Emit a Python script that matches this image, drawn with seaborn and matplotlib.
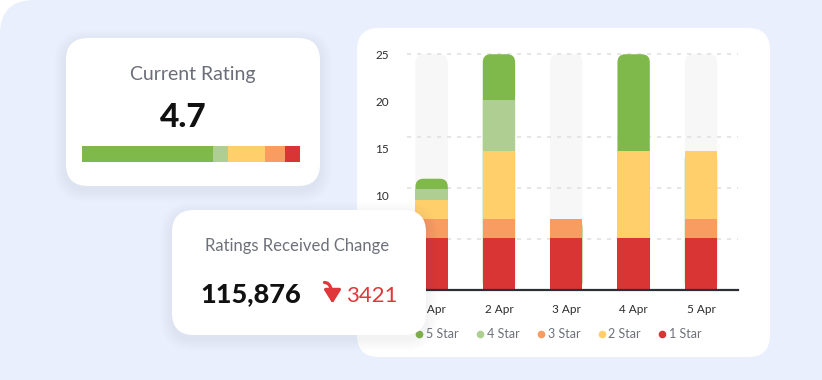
import matplotlib
matplotlib.use("Agg")
import matplotlib.pyplot as plt
from matplotlib.patches import FancyBboxPatch, FancyArrowPatch
from matplotlib.lines import Line2D
import seaborn as sns
import pandas as pd
import numpy as np

# ---- data ----
days = ["1 Apr", "2 Apr", "3 Apr", "4 Apr", "5 Apr"]
stack_order = ["1 Star", "3 Star", "2 Star", "4 Star", "5 Star"]  # bottom -> top
star_1 = [5.5, 5.5, 5.5, 5.5, 5.5]
star_3 = [2.0, 2.0, 2.0, 0.0, 2.0]
star_2 = [2.0, 7.2, 0.0, 9.2, 7.2]
star_4 = [1.2, 5.4, 0.0, 0.0, 0.0]
star_5 = [1.1, 4.9, 0.0, 10.3, 0.0]
track_max = 25
y_ticks = [10, 15, 20, 25]  # 0 and 5 sit under the change card
grid_levels = [5.4, 10.8, 16.2, 25]

legend_order = ["5 Star", "4 Star", "3 Star", "2 Star", "1 Star"]
star_colors = {"5 Star": "#7fb84b", "4 Star": "#afcf92", "3 Star": "#f89c61",
               "2 Star": "#ffcf6b", "1 Star": "#d93535"}

current_rating = "4.7"
rating_order = ["5 Star", "4 Star", "2 Star", "3 Star", "1 Star"]
rating_share = [60, 7, 17, 9, 7]  # % per rating_order
ratings_received = "115,876"
ratings_change = "3421"

df = pd.DataFrame({"day": days, "1 Star": star_1, "3 Star": star_3,
                   "2 Star": star_2, "4 Star": star_4, "5 Star": star_5})
cum = df[stack_order].cumsum(axis=1)

sns.set_style("white")
plt.rcParams["font.family"] = ["Lato", "DejaVu Sans"]

W, H = 822, 380
fig = plt.figure(figsize=(W / 100, H / 100), dpi=100)
fig.patch.set_facecolor("white")


def px_axes(x, y, w, h, z):
    # axes placed in pixel coords (top-down)
    return fig.add_axes([x / W, (H - y - h) / H, w / W, h / H], zorder=z)


def card(a, x, y, w, h, r=20, shadow=True):
    if shadow:
        for g in range(1, 13):
            a.add_patch(FancyBboxPatch((x - g, y - g + 4), w + 2 * g, h + 2 * g,
                                       boxstyle=f"round,pad=0,rounding_size={r + g}",
                                       fc="#8a8fa6", ec="none", alpha=0.009))
    a.add_patch(FancyBboxPatch((x, y), w, h, boxstyle=f"round,pad=0,rounding_size={r}",
                               fc="white", ec="none"))


# background layer
bg = fig.add_axes([0, 0, 1, 1], zorder=0)
bg.set_xlim(0, W)
bg.set_ylim(H, 0)
bg.axis("off")
bg.add_patch(FancyBboxPatch((0, 0), W + 60, H + 60, boxstyle="round,pad=0,rounding_size=34",
                            fc="#e9effd", ec="none"))
card(bg, 357, 28, 413, 329, r=22, shadow=False)
card(bg, 66, 38, 254, 148, r=22)

bg.text(193, 80, "Current Rating", ha="center", va="baseline", fontsize=14, color="#6b6e78")
bg.text(183.5, 127, current_rating, ha="center", va="baseline", fontsize=24,
        fontweight="black", color="#111111")

# rating bar in card 1
rb = px_axes(81.7, 146, 218.3, 15.7, 1)
lefts = np.concatenate([[0], np.cumsum(rating_share)[:-1]])
rb.barh([0] * len(rating_share), rating_share, left=lefts, height=1.0, linewidth=0,
        color=[star_colors[s] for s in rating_order])
rb.set_xlim(0, sum(rating_share))
rb.set_ylim(-0.5, 0.5)
rb.axis("off")

# ---- chart ----
ax = px_axes(406.7, 50, 331.3, 240, 2)
ax.patch.set_alpha(0)
bw = 0.48

n0 = len(ax.patches)
sns.barplot(x=days, y=[track_max] * len(days), color="#f7f7f7", width=bw,
            saturation=1, errorbar=None, linewidth=0, edgecolor="none", ax=ax)
track_patches = ax.patches[n0:]

layer_patches = {}
for s in reversed(stack_order):
    n0 = len(ax.patches)
    sns.barplot(x=df["day"], y=cum[s], color=star_colors[s], width=bw,
                saturation=1, errorbar=None, linewidth=0, edgecolor="none", ax=ax)
    layer_patches[s] = ax.patches[n0:]

ax.set_xlim(-0.37, 4.55)
ax.set_ylim(0, 25.45)

# round the top of the tracks and of each stack
xpp = (4.55 + 0.37) / 331.3
ypp = 25.45 / 240
asp = ypp / xpp
rr = 8 * xpp
for plist, z in [(track_patches, 0.6), (layer_patches[stack_order[-1]], 0.8)]:
    for p in plist:
        x, y, w, h = p.get_x(), p.get_y(), p.get_width(), p.get_height()
        fc = p.get_facecolor()
        p.remove()
        ax.add_patch(FancyBboxPatch((x, y), w, h, boxstyle=f"round,pad=0,rounding_size={rr}",
                                    mutation_aspect=asp, fc=fc, ec="none", lw=0, zorder=z))

for v in grid_levels:
    ax.axhline(v, color="#e2e2e2", lw=1.2, ls=(0, (2.5, 3.5)), zorder=0.7)

sns.despine(ax=ax, left=True)
ax.spines["bottom"].set_color("#2c2f36")
ax.spines["bottom"].set_linewidth(1.6)
ax.spines["bottom"].set_zorder(3)
ax.set_yticks(y_ticks)
ax.tick_params(axis="y", length=0, pad=13, labelsize=8.5, labelcolor="#2d2d2d")
ax.tick_params(axis="x", length=4, width=1.4, color="#2c2f36", pad=6,
               labelsize=8.5, labelcolor="#2d2d2d")
ax.set_xlabel("")
ax.set_ylabel("")

handles = [Line2D([], [], marker="o", ls="none", markersize=5.5,
                  markerfacecolor=star_colors[s], markeredgecolor="none") for s in legend_order]
ax.legend(handles, legend_order, loc="center", bbox_to_anchor=(558 / W, 46 / H),
          bbox_transform=fig.transFigure, ncol=5, frameon=False, fontsize=9,
          handletextpad=0.15, columnspacing=1.3, handlelength=0.8, labelcolor="#6e717a")

# ---- card 2 on top ----
ov = fig.add_axes([0, 0, 1, 1], zorder=3)
ov.set_xlim(0, W)
ov.set_ylim(H, 0)
ov.axis("off")
ov.patch.set_alpha(0)
card(ov, 172, 210, 254, 125, r=22)
ov.text(297.5, 250.5, "Ratings Received Change", ha="center", va="baseline",
        fontsize=12, color="#6e717a")
ov.text(200, 301.7, ratings_received, ha="left", va="baseline", fontsize=19.5,
        fontweight="black", color="#111111")
# bent "down" arrow (no installed font has the glyph)
ov.add_patch(FancyArrowPatch((324.5, 282.5), (332.5, 303.5),
                             connectionstyle="angle3,angleA=0,angleB=90",
                             arrowstyle="-|>,head_length=8,head_width=5", lw=2.3,
                             color="#e0383a", shrinkA=0, shrinkB=0, mutation_scale=1,
                             capstyle="round"))
ov.text(346, 301.7, ratings_change, ha="left", va="baseline", fontsize=16, color="#e0383a")

fig.savefig("out.png", dpi=100)
